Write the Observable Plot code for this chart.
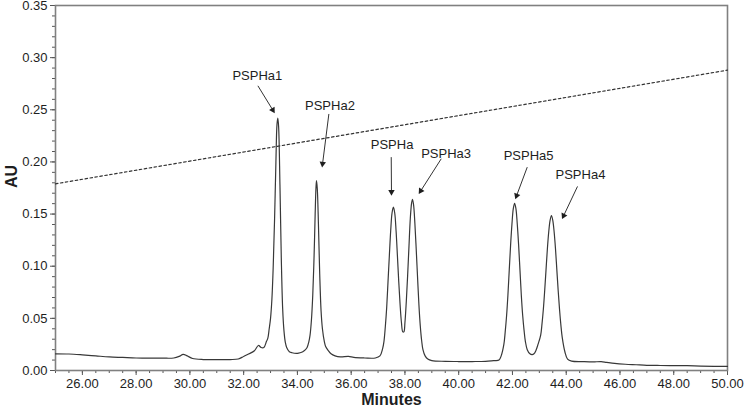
<!DOCTYPE html>
<html>
<head>
<meta charset="utf-8">
<script src="https://cdn.jsdelivr.net/npm/d3@7"></script>
<script src="https://cdn.jsdelivr.net/npm/@observablehq/plot@0.6"></script>
<style>
  html, body { margin: 0; padding: 0; background: #fff; }
  #chart svg { display: block; }
</style>
</head>
<body>
<div id="chart"></div>
<script>
// ---- data ----
const time = [
  25.0, 25.5, 26.0, 26.5, 27.0, 27.5, 28.0, 28.5, 29.0, 29.4, 29.6, 29.75, 29.9, 30.1, 30.5, 31.0, 31.5, 31.8, 32.0, 32.2, 32.4, 32.55, 32.65, 32.75, 32.85,
  32.90, 32.95, 33.00, 33.05, 33.10, 33.15, 33.20, 33.24, 33.27, 33.30, 33.35, 33.40, 33.45, 33.50, 33.55, 33.60, 33.70, 33.80, 34.00, 34.10, 34.20, 34.30, 34.36,
  34.42, 34.47, 34.52, 34.57, 34.62, 34.66, 34.69, 34.71, 34.74, 34.78, 34.83, 34.88, 34.93, 35.00, 35.05, 35.15, 35.25, 35.40, 35.60, 35.90, 36.10, 36.50, 36.90,
  37.07, 37.17, 37.22, 37.27, 37.32, 37.37, 37.42, 37.47, 37.52, 37.57, 37.62, 37.67, 37.72, 37.77, 37.82, 37.87, 37.92, 37.96,
  38.00, 38.05, 38.10, 38.15, 38.20, 38.25, 38.28, 38.32, 38.37, 38.42, 38.47, 38.52, 38.57, 38.62, 38.67, 38.75, 38.85, 39.00, 39.50, 40.00, 40.50, 41.00, 41.30,
  41.50, 41.58, 41.68, 41.73, 41.78, 41.83, 41.88, 41.93, 41.98, 42.03, 42.08, 42.13, 42.18, 42.23, 42.28, 42.33, 42.38, 42.43, 42.48, 42.55, 42.65, 42.73, 42.80, 42.87,
  42.95, 43.05, 43.10, 43.15, 43.20, 43.25, 43.30, 43.35, 43.40, 43.45, 43.50, 43.55, 43.60, 43.65, 43.70, 43.75, 43.80, 43.85, 43.95, 44.05, 44.20, 44.60, 45.00, 45.30,
  45.50, 45.80, 46.20, 46.60, 47.00, 47.50, 48.00, 48.50, 49.00, 49.50, 50.00
];
const au = [
  0.016, 0.0158, 0.015, 0.014, 0.013, 0.0125, 0.012, 0.0118, 0.0118, 0.012, 0.0135, 0.0155, 0.014, 0.0115, 0.0105, 0.0105, 0.0105, 0.011, 0.0135, 0.016, 0.019, 0.024, 0.022, 0.022, 0.028,
  0.031, 0.040, 0.050, 0.068, 0.100, 0.145, 0.200, 0.236, 0.242, 0.234, 0.178, 0.108, 0.060, 0.038, 0.027, 0.022, 0.018, 0.017, 0.0165, 0.017, 0.018, 0.020, 0.022,
  0.027, 0.034, 0.048, 0.072, 0.110, 0.150, 0.175, 0.182, 0.174, 0.142, 0.092, 0.057, 0.040, 0.028, 0.023, 0.019, 0.016, 0.014, 0.013, 0.0135, 0.0125, 0.012, 0.012,
  0.014, 0.021, 0.028, 0.042, 0.060, 0.085, 0.110, 0.134, 0.151, 0.1566, 0.151, 0.134, 0.110, 0.085, 0.063, 0.046, 0.037, 0.037,
  0.046, 0.066, 0.091, 0.119, 0.146, 0.161, 0.164, 0.159, 0.141, 0.116, 0.089, 0.063, 0.043, 0.029, 0.020, 0.014, 0.011, 0.0095, 0.0088, 0.0086, 0.0086, 0.0088, 0.0095,
  0.010, 0.014, 0.025, 0.037, 0.052, 0.072, 0.096, 0.120, 0.140, 0.155, 0.1604, 0.155, 0.140, 0.120, 0.096, 0.072, 0.053, 0.039, 0.028, 0.020, 0.016, 0.0153, 0.016, 0.019,
  0.025, 0.034, 0.045, 0.059, 0.077, 0.097, 0.117, 0.133, 0.144, 0.1486, 0.144, 0.133, 0.117, 0.097, 0.077, 0.059, 0.044, 0.032, 0.018, 0.011, 0.009, 0.0085, 0.0082, 0.0085,
  0.0078, 0.0068, 0.0060, 0.0055, 0.0050, 0.0048, 0.0047, 0.0046, 0.0042, 0.0040, 0.0040
];

// gradient (dotted line)
const gradTime = [25, 50];
const gradAU = [0.179, 0.288];

// peak annotations
const peakLabels = ["PSPHa1", "PSPHa2", "PSPHa", "PSPHa3", "PSPHa5", "PSPHa4"];
const labelTime = [32.51, 35.21, 37.52, 39.53, 42.60, 44.53];
const labelAU   = [0.283, 0.254, 0.216, 0.208, 0.206, 0.188];
const arrowFromTime = [32.53, 35.17, 37.49, 39.35, 42.55, 44.42];
const arrowFromAU   = [0.273, 0.246, 0.2046, 0.203, 0.195, 0.1765];
const arrowToTime   = [33.15, 34.92, 37.50, 38.52, 42.11, 43.85];
const arrowToAU     = [0.247, 0.195, 0.168, 0.1695, 0.1646, 0.1455];

// tick values
const xMajorTicks = [26, 28, 30, 32, 34, 36, 38, 40, 42, 44, 46, 48, 50];
const yMajorTicks = [0, 0.05, 0.10, 0.15, 0.20, 0.25, 0.30, 0.35];
const xMinorTicks = d3.range(25, 50.001, 0.5);
const yMinorTicks = d3.range(0, 0.3501, 0.01);

// ---- build ----
const W = 744, H = 413, mL = 55, mR = 17, mT = 5, mB = 43;
const xDomain = [25, 50], yDomain = [0, 0.35];

const trace = time.map((t, i) => ({t, v: au[i]}));
const grad = gradTime.map((t, i) => ({t, v: gradAU[i]}));
const labels = peakLabels.map((s, i) => ({s, t: labelTime[i], v: labelAU[i]}));

const xs = Plot.scale({x: {domain: xDomain, range: [mL, W - mR]}});
const ys = Plot.scale({y: {domain: yDomain, range: [H - mB, mT]}});
const arrows = peakLabels.map((s, i) => {
  const x1 = xs.apply(arrowFromTime[i]), y1 = ys.apply(arrowFromAU[i]);
  const x2 = xs.apply(arrowToTime[i]), y2 = ys.apply(arrowToAU[i]);
  const dx = x2 - x1, dy = y2 - y1, L = Math.hypot(dx, dy);
  const ux = dx / L, uy = dy / L;
  const back = 3.4;
  return {
    t1: arrowFromTime[i], v1: arrowFromAU[i],
    t2: xs.invert(x2 - ux * back), v2: ys.invert(y2 - uy * back),
    rot: Math.atan2(ux, -uy) * 180 / Math.PI
  };
});

const ink = "#1e1e1e";
const chart = Plot.plot({
  width: W, height: H,
  marginLeft: mL, marginRight: mR, marginTop: mT, marginBottom: mB,
  style: {fontFamily: "'Liberation Sans', Arial, sans-serif", fontSize: "13px", color: ink, background: "#fff", overflow: "visible"},
  x: {domain: xDomain},
  y: {domain: yDomain},
  marks: [
    Plot.axisX({ticks: xMinorTicks, tickSize: 3, tickFormat: () => "", label: null, stroke: "#555"}),
    Plot.axisX({ticks: xMajorTicks, tickSize: 5, tickPadding: 3, tickFormat: d3.format(".2f"), label: null, stroke: "#555", fontSize: 13}),
    Plot.axisY({ticks: yMinorTicks, tickSize: 3, tickFormat: () => "", label: null, stroke: "#555"}),
    Plot.axisY({ticks: yMajorTicks, tickSize: 5, tickPadding: 3, tickFormat: d3.format(".2f"), label: null, stroke: "#555", fontSize: 13}),
    Plot.frame({stroke: "#808080", strokeWidth: 1.6}),
    Plot.line(grad, {x: "t", y: "v", stroke: "#333", strokeWidth: 1.2, strokeDasharray: "2.5,2.5"}),
    Plot.line(trace, {x: "t", y: "v", stroke: "#383838", strokeWidth: 1.2, curve: "catmull-rom"}),
    Plot.link(arrows, {x1: "t1", y1: "v1", x2: "t2", y2: "v2", stroke: "#333", strokeWidth: 1}),
    Plot.dot(arrows, {x: "t2", y: "v2", symbol: "triangle", r: 2.4, fill: ink, stroke: null, rotate: "rot"}),
    Plot.text(labels, {x: "t", y: "v", text: "s", fontSize: 13, fill: ink, textAnchor: "middle"}),
    Plot.text(["Minutes"], {frameAnchor: "bottom", dy: 34, text: d => d, fontSize: 16, fontWeight: "bold", fill: ink}),
    Plot.text(["AU"], {frameAnchor: "left", dx: -44, rotate: -90, text: d => d, fontSize: 16, fontWeight: "bold", fill: ink})
  ]
});
document.getElementById("chart").appendChild(chart);
</script>
</body>
</html>
